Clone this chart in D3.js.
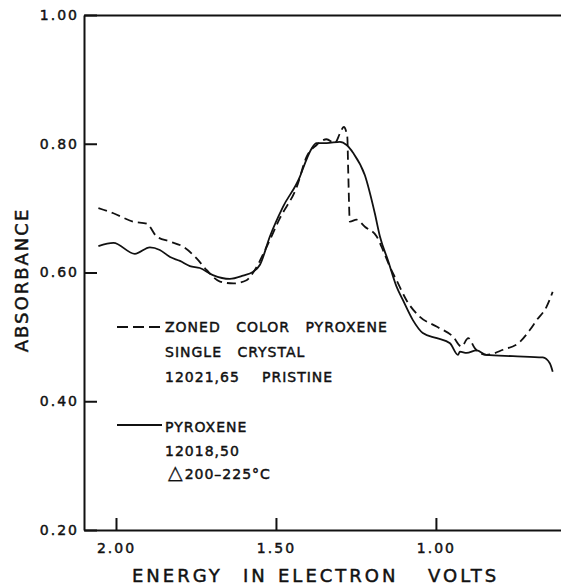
<!DOCTYPE html>
<html>
<head>
<meta charset="utf-8">
<script src="https://cdn.jsdelivr.net/npm/d3@7"></script>
<style>
  body { margin: 0; background: #fff; }
  svg text { font-family: "DejaVu Sans", sans-serif; fill: #111; stroke: #111; stroke-width: 0.45px; }
  .axis path, .axis line { stroke: #111; stroke-width: 2; }
  .axis text { font-size: 14px; letter-spacing: 2px; }
  .curve { fill: none; stroke: #111; stroke-width: 1.8; }
  .legend text { font-size: 14px; letter-spacing: 1px; word-spacing: 10px; }
</style>
</head>
<body>
<svg id="chart"></svg>
<script>
'use strict';

// pyroxene 12018,50 (solid)
var solidEnergy = [2.055, 2.008, 1.941, 1.894, 1.863, 1.831, 1.800, 1.769, 1.738, 1.697,
    1.644, 1.603, 1.572, 1.550, 1.519, 1.478, 1.425, 1.409, 1.388, 1.373,
    1.342, 1.300, 1.279, 1.259, 1.222, 1.191, 1.175, 1.150, 1.123, 1.103,
    1.072, 1.041, 0.997, 0.956, 0.931, 0.925, 0.904, 0.873, 0.842, 0.759,
    0.666, 0.644, 0.635];
var solidAbs = [0.641, 0.646, 0.629, 0.639, 0.635, 0.624, 0.618, 0.610, 0.607, 0.596,
    0.590, 0.595, 0.601, 0.612, 0.656, 0.702, 0.749, 0.770, 0.793, 0.801,
    0.801, 0.803, 0.798, 0.786, 0.751, 0.692, 0.656, 0.619, 0.578, 0.557,
    0.526, 0.506, 0.498, 0.490, 0.472, 0.477, 0.475, 0.479, 0.472, 0.470,
    0.468, 0.459, 0.446];

// zoned color pyroxene 12021,65 (dashed)
var dashedEnergy = [2.055, 2.008, 1.946, 1.904, 1.873, 1.831, 1.790, 1.748, 1.717, 1.675,
    1.633, 1.592, 1.566, 1.529, 1.488, 1.435, 1.404, 1.373, 1.342, 1.316,
    1.300, 1.288, 1.277, 1.274, 1.269, 1.248, 1.222, 1.185, 1.170, 1.144,
    1.123, 1.092, 1.050, 0.998, 0.946, 0.920, 0.899, 0.878, 0.842, 0.790,
    0.738, 0.706, 0.685, 0.654, 0.635];
var dashedAbs = [0.700, 0.692, 0.679, 0.676, 0.656, 0.648, 0.640, 0.622, 0.604, 0.586,
    0.583, 0.588, 0.604, 0.640, 0.684, 0.733, 0.780, 0.798, 0.807, 0.801,
    0.816, 0.826, 0.811, 0.755, 0.679, 0.682, 0.671, 0.656, 0.640, 0.609,
    0.588, 0.557, 0.531, 0.516, 0.500, 0.485, 0.498, 0.482, 0.472, 0.480,
    0.492, 0.511, 0.526, 0.547, 0.570];

var xTicks = [2.00, 1.50, 1.00];
var yTicks = [1.00, 0.80, 0.60, 0.40, 0.20];

var width = 561, height = 588;
var margin = {top: 15, right: 0, bottom: 58, left: 84};

var x = d3.scaleLinear()
    .domain([2.10, 0.609])
    .range([margin.left, width - margin.right]);

var y = d3.scaleLinear()
    .domain([0.20, 1.00])
    .range([height - margin.bottom, margin.top]);

var svg = d3.select('#chart')
    .attr("width", width)
    .attr("height", height);

// Top border
svg.append("g")
    .attr("class", "axis")
    .attr("transform", "translate(0," + margin.top + ")")
    .call(d3.axisTop(x).tickValues([]).tickSizeOuter(0));

// X Axis Ticks
svg.append("g")
    .attr("class", "axis")
    .attr("transform", "translate(0," + (height - margin.bottom) + ")")
    .call(d3.axisBottom(x)
        .tickValues(xTicks)
        .tickSize(-12)
        .tickSizeOuter(0)
        .tickPadding(13)
        .tickFormat(d3.format(".2f")));

// Y Axis Ticks
svg.append("g")
    .attr("class", "axis")
    .attr("transform", "translate(" + margin.left + ",0)")
    .call(d3.axisLeft(y)
        .tickValues(yTicks)
        .tickSize(-13)
        .tickSizeOuter(0)
        .tickPadding(5)
        .tickFormat(d3.format(".2f")));

svg.selectAll(".axis text")
    .attr("font-family", null)
    .attr("font-size", null);

// Axis titles
svg.append("text")
    .attr("transform", "translate(28,280) rotate(-90)")
    .style("text-anchor", "middle")
    .style("font-size", "18px")
    .style("letter-spacing", "2px")
    .text("ABSORBANCE");

var xTitle = svg.append("text")
    .attr("y", 582)
    .style("font-size", "18px")
    .style("letter-spacing", "3px");
xTitle.append("tspan").attr("x", 132).text("ENERGY");
xTitle.append("tspan").attr("x", 243).text("IN");
xTitle.append("tspan").attr("x", 278).text("ELECTRON");
xTitle.append("tspan").attr("x", 428).text("VOLTS");

// Curves
var line = d3.line()
    .x(function(d) { return x(d[0]); })
    .y(function(d) { return y(d[1]); })
    .curve(d3.curveMonotoneX);

svg.append("path")
    .datum(d3.zip(solidEnergy, solidAbs))
    .attr("class", "curve")
    .attr("d", line);

svg.append("path")
    .datum(d3.zip(dashedEnergy, dashedAbs))
    .attr("class", "curve")
    .attr("stroke-dasharray", "9,5")
    .attr("d", line);

// Legend
var legend = svg.append("g").attr("class", "legend");

legend.append("line")
    .attr("x1", 117).attr("x2", 162)
    .attr("y1", 327).attr("y2", 327)
    .attr("class", "curve")
    .attr("stroke-dasharray", "11,5");
legend.append("line")
    .attr("x1", 117).attr("x2", 162)
    .attr("y1", 425).attr("y2", 425)
    .attr("class", "curve");

var legendLines = [
    {x: 165, y: 332, t: "ZONED COLOR PYROXENE"},
    {x: 165, y: 357, t: "SINGLE CRYSTAL"},
    {x: 165, y: 382, t: "12021,65"},
    {x: 262, y: 382, t: "PRISTINE"},
    {x: 165, y: 432, t: "PYROXENE"},
    {x: 165, y: 456, t: "12018,50"}
];

legend.selectAll(".entry")
    .data(legendLines)
    .enter().append("text")
    .attr("class", "entry")
    .attr("x", function(d) { return d.x; })
    .attr("y", function(d) { return d.y; })
    .text(function(d) { return d.t; });

var heat = legend.append("text")
    .attr("x", 168)
    .attr("y", 479);
heat.append("tspan")
    .style("font-size", "19px")
    .style("stroke-width", "0.3px")
    .text("\u25b3");
heat.append("tspan")
    .attr("dx", 1)
    .text("200\u2013225\u00b0C");
</script>
</body>
</html>
